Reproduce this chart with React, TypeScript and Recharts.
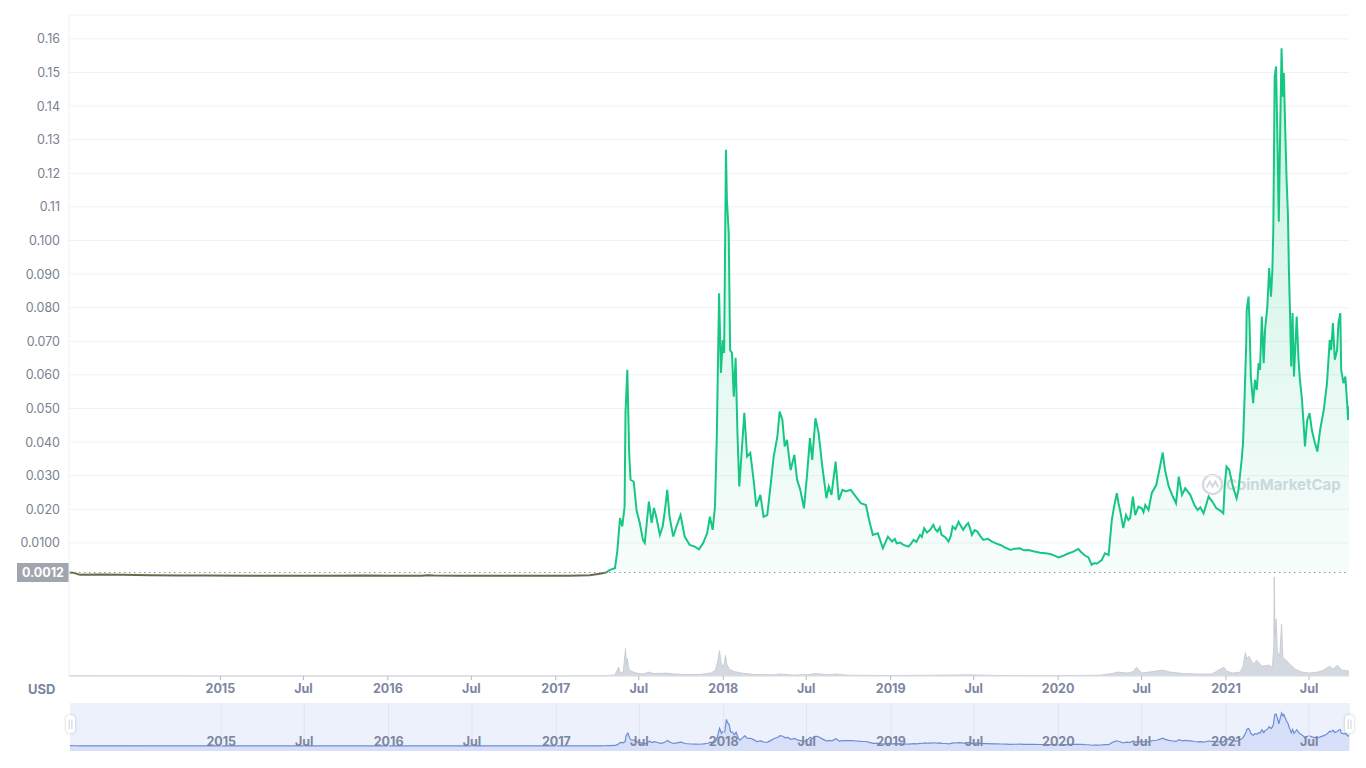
import React from 'react';
import {
  Area,
  AreaChart,
  CartesianGrid,
  ComposedChart,
  ReferenceLine,
  XAxis,
  YAxis,
} from 'recharts';

type Pt = [string, number];

// price in USD
const price2014to2016: Pt[] = [
  ['2014-02-05', 0.0012], ['2014-02-15', 0.0011], ['2014-03-01', 0.0005], ['2014-04-15', 0.0006],
  ['2014-06-01', 0.0005], ['2014-08-01', 0.0004], ['2014-10-01', 0.0003], ['2014-12-01', 0.0003],
  ['2015-03-01', 0.0002], ['2015-06-01', 0.0002], ['2015-09-01', 0.0002], ['2015-11-15', 0.0003],
  ['2016-01-01', 0.0002], ['2016-03-15', 0.0002], ['2016-03-28', 0.0004], ['2016-04-10', 0.0003],
  ['2016-06-01', 0.0002], ['2016-09-01', 0.0002], ['2016-12-01', 0.0002],
];

const price2017: Pt[] = [
  ['2017-02-01', 0.0002], ['2017-03-16', 0.0004], ['2017-04-07', 0.0008], ['2017-04-20', 0.0012],
  ['2017-04-29', 0.0020], ['2017-05-10', 0.0025], ['2017-05-15', 0.0074], ['2017-05-21', 0.0174],
  ['2017-05-26', 0.0149], ['2017-05-31', 0.0208], ['2017-06-02', 0.0487], ['2017-06-06', 0.0615],
  ['2017-06-10', 0.0368], ['2017-06-13', 0.0288], ['2017-06-20', 0.0282], ['2017-06-26', 0.0198],
  ['2017-07-03', 0.0160], ['2017-07-10', 0.0109], ['2017-07-14', 0.0100], ['2017-07-23', 0.0223],
  ['2017-07-29', 0.0160], ['2017-08-03', 0.0204], ['2017-08-08', 0.0178], ['2017-08-16', 0.0124],
  ['2017-08-22', 0.0149], ['2017-08-27', 0.0198], ['2017-09-01', 0.0258], ['2017-09-06', 0.0178],
  ['2017-09-14', 0.0119], ['2017-09-21', 0.0149], ['2017-09-30', 0.0183], ['2017-10-09', 0.0119],
  ['2017-10-20', 0.0094], ['2017-10-31', 0.0089], ['2017-11-09', 0.0081], ['2017-11-18', 0.0099],
  ['2017-11-27', 0.0129], ['2017-12-03', 0.0178], ['2017-12-09', 0.0139], ['2017-12-14', 0.0208],
  ['2017-12-18', 0.0416], ['2017-12-23', 0.0843], ['2017-12-27', 0.0606], ['2017-12-31', 0.0704],
];

const price2018: Pt[] = [
  ['2018-01-03', 0.0665], ['2018-01-07', 0.1270], ['2018-01-09', 0.1121], ['2018-01-13', 0.1023],
  ['2018-01-16', 0.0674], ['2018-01-20', 0.0665], ['2018-01-24', 0.0535], ['2018-01-28', 0.0651],
  ['2018-02-01', 0.0427], ['2018-02-05', 0.0268], ['2018-02-11', 0.0387], ['2018-02-16', 0.0487],
  ['2018-02-22', 0.0357], ['2018-03-01', 0.0368], ['2018-03-09', 0.0279], ['2018-03-14', 0.0208],
  ['2018-03-23', 0.0243], ['2018-03-30', 0.0178], ['2018-04-07', 0.0183], ['2018-04-14', 0.0268],
  ['2018-04-21', 0.0357], ['2018-04-29', 0.0416], ['2018-05-04', 0.0491], ['2018-05-10', 0.0466],
  ['2018-05-15', 0.0387], ['2018-05-20', 0.0407], ['2018-05-28', 0.0317], ['2018-06-05', 0.0362],
  ['2018-06-11', 0.0288], ['2018-06-18', 0.0258], ['2018-06-26', 0.0203], ['2018-07-03', 0.0307],
  ['2018-07-09', 0.0412], ['2018-07-14', 0.0347], ['2018-07-21', 0.0471], ['2018-07-28', 0.0427],
  ['2018-08-05', 0.0327], ['2018-08-14', 0.0233], ['2018-08-19', 0.0268], ['2018-08-25', 0.0243],
  ['2018-09-03', 0.0342], ['2018-09-10', 0.0228], ['2018-09-18', 0.0258], ['2018-09-25', 0.0253],
  ['2018-10-06', 0.0258], ['2018-10-17', 0.0238], ['2018-10-28', 0.0218], ['2018-11-08', 0.0213],
  ['2018-11-15', 0.0168], ['2018-11-23', 0.0124], ['2018-12-04', 0.0129], ['2018-12-15', 0.0084],
  ['2018-12-26', 0.0119],
];

const price2019: Pt[] = [
  ['2019-01-04', 0.0104], ['2019-01-10', 0.0112], ['2019-01-14', 0.0099], ['2019-01-22', 0.0101],
  ['2019-01-29', 0.0094], ['2019-02-09', 0.0089], ['2019-02-14', 0.0097], ['2019-02-20', 0.0109],
  ['2019-02-26', 0.0103], ['2019-03-06', 0.0124], ['2019-03-10', 0.0118], ['2019-03-15', 0.0144],
  ['2019-03-21', 0.0131], ['2019-03-28', 0.0139], ['2019-04-04', 0.0154], ['2019-04-08', 0.0141],
  ['2019-04-13', 0.0134], ['2019-04-18', 0.0146], ['2019-04-22', 0.0124], ['2019-04-30', 0.0117],
  ['2019-05-07', 0.0104], ['2019-05-12', 0.0121], ['2019-05-16', 0.0149], ['2019-05-22', 0.0141],
  ['2019-05-29', 0.0163], ['2019-06-03', 0.0150], ['2019-06-08', 0.0139], ['2019-06-14', 0.0152],
  ['2019-06-19', 0.0159], ['2019-06-23', 0.0144], ['2019-06-27', 0.0124], ['2019-07-03', 0.0138],
  ['2019-07-09', 0.0134], ['2019-07-15', 0.0121], ['2019-07-22', 0.0109], ['2019-08-01', 0.0112],
  ['2019-08-10', 0.0104], ['2019-08-20', 0.0098], ['2019-08-28', 0.0094], ['2019-09-08', 0.0086],
  ['2019-09-19', 0.0079], ['2019-09-28', 0.0083], ['2019-10-10', 0.0084], ['2019-10-18', 0.0078],
  ['2019-10-28', 0.0079], ['2019-11-08', 0.0075], ['2019-11-23', 0.0071], ['2019-12-04', 0.0069],
  ['2019-12-15', 0.0067], ['2019-12-24', 0.0062],
];

const price2020: Pt[] = [
  ['2020-01-02', 0.0057], ['2020-01-11', 0.0061], ['2020-01-20', 0.0067], ['2020-02-03', 0.0074],
  ['2020-02-14', 0.0082], ['2020-02-20', 0.0073], ['2020-02-27', 0.0064], ['2020-03-07', 0.0057],
  ['2020-03-14', 0.0035], ['2020-03-20', 0.0040], ['2020-03-25', 0.0038], ['2020-04-05', 0.0049],
  ['2020-04-12', 0.0069], ['2020-04-20', 0.0064], ['2020-04-27', 0.0168], ['2020-05-02', 0.0208],
  ['2020-05-08', 0.0248], ['2020-05-12', 0.0214], ['2020-05-15', 0.0198], ['2020-05-22', 0.0144],
  ['2020-05-28', 0.0183], ['2020-06-02', 0.0168], ['2020-06-06', 0.0174], ['2020-06-12', 0.0238],
  ['2020-06-17', 0.0183], ['2020-06-24', 0.0208], ['2020-07-01', 0.0203], ['2020-07-05', 0.0191],
  ['2020-07-09', 0.0213], ['2020-07-16', 0.0198], ['2020-07-23', 0.0248], ['2020-08-02', 0.0273],
  ['2020-08-10', 0.0327], ['2020-08-16', 0.0369], ['2020-08-21', 0.0317], ['2020-08-29', 0.0268],
  ['2020-09-07', 0.0238], ['2020-09-14', 0.0218], ['2020-09-20', 0.0297], ['2020-09-27', 0.0243],
  ['2020-10-04', 0.0263], ['2020-10-15', 0.0243], ['2020-10-24', 0.0213], ['2020-10-31', 0.0198],
  ['2020-11-06', 0.0206], ['2020-11-13', 0.0188], ['2020-11-24', 0.0238], ['2020-12-02', 0.0223],
  ['2020-12-11', 0.0203], ['2020-12-18', 0.0198], ['2020-12-26', 0.0188], ['2020-12-29', 0.0268],
];

const price2021: Pt[] = [
  ['2021-01-02', 0.0327], ['2021-01-08', 0.0317], ['2021-01-16', 0.0268], ['2021-01-24', 0.0233],
  ['2021-01-28', 0.0258], ['2021-02-04', 0.0347], ['2021-02-07', 0.0397], ['2021-02-10', 0.0516],
  ['2021-02-14', 0.0694], ['2021-02-15', 0.0793], ['2021-02-19', 0.0833], ['2021-02-21', 0.0764],
  ['2021-02-24', 0.0595], ['2021-03-01', 0.0516], ['2021-03-05', 0.0585], ['2021-03-09', 0.0555],
  ['2021-03-13', 0.0635], ['2021-03-16', 0.0615], ['2021-03-20', 0.0774], ['2021-03-24', 0.0635],
  ['2021-03-27', 0.0734], ['2021-04-01', 0.0803], ['2021-04-05', 0.0918], ['2021-04-09', 0.0833],
  ['2021-04-12', 0.0913], ['2021-04-14', 0.1032], ['2021-04-17', 0.1488], ['2021-04-20', 0.1518],
  ['2021-04-23', 0.1299], ['2021-04-26', 0.1056], ['2021-04-29', 0.1329], ['2021-05-02', 0.1572],
  ['2021-05-05', 0.1428], ['2021-05-07', 0.1498], ['2021-05-10', 0.1329], ['2021-05-13', 0.1180],
  ['2021-05-16', 0.1071], ['2021-05-18', 0.0913], ['2021-05-21', 0.0754], ['2021-05-23', 0.0625],
  ['2021-05-26', 0.0784], ['2021-05-29', 0.0595], ['2021-06-04', 0.0774], ['2021-06-08', 0.0645],
  ['2021-06-11', 0.0585], ['2021-06-15', 0.0535], ['2021-06-19', 0.0456], ['2021-06-22', 0.0387],
  ['2021-06-27', 0.0466], ['2021-07-02', 0.0486], ['2021-07-07', 0.0436], ['2021-07-12', 0.0407],
  ['2021-07-19', 0.0372], ['2021-07-25', 0.0436], ['2021-08-02', 0.0496], ['2021-08-09', 0.0575],
  ['2021-08-15', 0.0704], ['2021-08-18', 0.0674], ['2021-08-22', 0.0754], ['2021-08-26', 0.0645],
  ['2021-08-31', 0.0674], ['2021-09-03', 0.0754], ['2021-09-07', 0.0784], ['2021-09-09', 0.0615],
  ['2021-09-14', 0.0575], ['2021-09-18', 0.0595], ['2021-09-22', 0.0516], ['2021-09-24', 0.0466],
  ['2021-09-26', 0.0506],
];

// 24h volume, millions USD (no scale shown, relative heights only)
const volume2014to2019: Pt[] = [
  ['2014-02-05', 4], ['2014-06-01', 2], ['2015-01-01', 1], ['2016-01-01', 1], ['2017-01-01', 1],
  ['2017-04-15', 3], ['2017-05-10', 10], ['2017-05-18', 90], ['2017-05-22', 30], ['2017-05-28', 40],
  ['2017-06-02', 280], ['2017-06-04', 120], ['2017-06-06', 180], ['2017-06-09', 80], ['2017-06-14', 50],
  ['2017-06-25', 30], ['2017-07-10', 20], ['2017-07-23', 40], ['2017-08-01', 25], ['2017-09-01', 30],
  ['2017-09-15', 20], ['2017-10-10', 15], ['2017-11-10', 15], ['2017-12-05', 30], ['2017-12-15', 60],
  ['2017-12-20', 150], ['2017-12-24', 260], ['2017-12-27', 140], ['2018-01-02', 90], ['2018-01-06', 210],
  ['2018-01-09', 120], ['2018-01-14', 70], ['2018-01-25', 45], ['2018-02-10', 30], ['2018-03-10', 15],
  ['2018-04-20', 12], ['2018-05-05', 20], ['2018-06-01', 10], ['2018-07-10', 15], ['2018-07-20', 25],
  ['2018-08-20', 12], ['2018-09-03', 20], ['2018-10-01', 8], ['2019-01-01', 5], ['2019-05-20', 10],
  ['2019-06-20', 12], ['2019-09-01', 5],
];

const volume2020to2021: Pt[] = [
  ['2020-01-01', 4], ['2020-04-01', 8], ['2020-04-28', 25], ['2020-05-08', 40], ['2020-06-01', 30],
  ['2020-06-13', 45], ['2020-06-20', 90], ['2020-07-01', 30], ['2020-08-16', 60], ['2020-09-01', 40],
  ['2020-10-01', 25], ['2020-11-01', 20], ['2020-12-01', 20], ['2020-12-27', 90], ['2021-01-02', 50],
  ['2021-01-15', 30], ['2021-02-01', 40], ['2021-02-07', 100], ['2021-02-12', 240], ['2021-02-15', 180],
  ['2021-02-20', 200], ['2021-03-01', 120], ['2021-03-09', 160], ['2021-03-20', 100], ['2021-04-05', 110],
  ['2021-04-12', 90], ['2021-04-15', 300], ['2021-04-16', 1010], ['2021-04-18', 400], ['2021-04-20', 580],
  ['2021-04-23', 250], ['2021-04-28', 200], ['2021-05-02', 530], ['2021-05-05', 180], ['2021-05-10', 170],
  ['2021-05-20', 120], ['2021-06-01', 70], ['2021-06-15', 40], ['2021-07-01', 30], ['2021-07-20', 40],
  ['2021-08-01', 60], ['2021-08-15', 100], ['2021-08-22', 70], ['2021-09-01', 110], ['2021-09-10', 60],
  ['2021-09-26', 50],
];

const xTickDates = [
  '2015-01-01', '2015-07-01', '2016-01-01', '2016-07-01', '2017-01-01', '2017-07-01', '2018-01-01',
  '2018-07-01', '2019-01-01', '2019-07-01', '2020-01-01', '2020-07-01', '2021-01-01', '2021-07-01',
];
const xTickLabels = [
  '2015', 'Jul', '2016', 'Jul', '2017', 'Jul', '2018', 'Jul', '2019', 'Jul', '2020', 'Jul', '2021', 'Jul',
];

const priceTicks = [
  0.16, 0.15, 0.14, 0.13, 0.12, 0.11, 0.1, 0.09, 0.08, 0.07, 0.06, 0.05, 0.04, 0.03, 0.02, 0.01,
];
const priceTickLabels = [
  '0.16', '0.15', '0.14', '0.13', '0.12', '0.11', '0.100', '0.090', '0.080', '0.070', '0.060',
  '0.050', '0.040', '0.030', '0.020', '0.0100',
];
// the volume pane below zero shares the price grid
const volumeGridLevels = [-0.01, -0.02];

const toRows = (pts: Pt[]) => pts.map(([d, v]) => ({ t: Date.parse(d), v }));

const priceRows = toRows([
  ...price2014to2016, ...price2017, ...price2018, ...price2019, ...price2020, ...price2021,
]);
const volumeRows = toRows([...volume2014to2019, ...volume2020to2021]);
const tickTimes = xTickDates.map(d => Date.parse(d));
const xDomain = [priceRows[0].t, priceRows[priceRows.length - 1].t];

const startPrice = priceRows[0].v;
const maxPrice = Math.max(...priceRows.map(r => r.v));
const minPrice = Math.min(...priceRows.map(r => r.v));
const lineSplit = (maxPrice - startPrice) / (maxPrice - minPrice);
const volTop = Math.max(...volumeRows.map(r => r.v)) / 0.15;

const xLabel = (t: number) => xTickLabels[tickTimes.indexOf(t)] ?? '';
const yLabel = (v: number) => priceTickLabels[priceTicks.indexOf(v)] ?? '';

const StartLabel = (props: any) => {
  const { x, y } = props.viewBox;
  return (
    <g>
      <rect x={x - 52} y={y - 9.5} width={52} height={19} fill='#a0a5af' />
      <text x={x - 26} y={y + 4.5} textAnchor='middle' fill='#fff' fontSize={12.5} fontWeight={700}>
        {startPrice.toFixed(4)}
      </text>
    </g>
  );
};

const handle: React.CSSProperties = {
  position: 'absolute',
  top: 715,
  width: 9,
  height: 18,
  borderRadius: 4,
  background: '#fff',
  boxShadow: '0 0 3px rgba(80,90,110,0.35)',
  color: '#b5bac5',
  fontSize: 8,
  lineHeight: '18px',
  textAlign: 'center',
};

export default function App() {
  return (
    <div
      style={{
        position: 'absolute', left: 0, top: 0, width: 1366, height: 768,
        background: '#fff', fontFamily: 'Inter, sans-serif', overflow: 'hidden',
      }}
    >
      {/* watermark sits behind the chart */}
      <div
        style={{
          position: 'absolute', left: 1201, top: 473, display: 'flex', alignItems: 'center',
          color: '#d6dae1', fontSize: 15, fontWeight: 700, gap: 2,
        }}
      >
        <svg width={23} height={23} viewBox='0 0 24 24'>
          <circle cx={12} cy={12} r={10} fill='none' stroke='#d6dae1' strokeWidth={2.5} />
          <polyline points='6,15 9,9 12,14 15,9 18,15' fill='none' stroke='#d6dae1' strokeWidth={2.2} />
        </svg>
        <span>CoinMarketCap</span>
      </div>

      <div style={{ position: 'absolute', left: 0, top: 0 }}>
        <ComposedChart width={1366} height={706} margin={{ top: 15, right: 17, bottom: 0, left: 0 }}>
          <defs>
            <linearGradient id='priceStroke' x1='0' y1='0' x2='0' y2='1'>
              <stop offset={lineSplit} stopColor='#16c784' />
              <stop offset={lineSplit} stopColor='#6b6a4c' />
            </linearGradient>
            <linearGradient id='priceFill' x1='0' y1='0' x2='0' y2='1'>
              <stop offset='0' stopColor='#16c784' stopOpacity={0.24} />
              <stop offset='1' stopColor='#16c784' stopOpacity={0.03} />
            </linearGradient>
          </defs>
          <CartesianGrid yAxisId='price' vertical={false} stroke='#eff1f4' />
          <XAxis
            type='number'
            dataKey='t'
            domain={xDomain}
            ticks={tickTimes}
            tickFormatter={xLabel}
            allowDataOverflow
            height={30}
            tickSize={4}
            tickMargin={4}
            axisLine={{ stroke: '#dcdfe5' }}
            tickLine={{ stroke: '#b5bac4' }}
            tick={{ fill: '#7d86a0', fontSize: 12.5, fontWeight: 700 }}
          />
          <YAxis
            yAxisId='price'
            domain={[-0.0296, 0.1671]}
            ticks={[...volumeGridLevels, ...priceTicks]}
            tickFormatter={yLabel}
            allowDataOverflow
            width={69}
            tickSize={0}
            tickMargin={9}
            tickLine={false}
            axisLine={{ stroke: '#eef0f3' }}
            tick={{ fill: '#7a8190', fontSize: 12.5 }}
          />
          <YAxis yAxisId='vol' hide domain={[0, volTop]} />
          <Area
            yAxisId='vol'
            data={volumeRows}
            dataKey='v'
            type='linear'
            stroke='#c3c8d1'
            strokeWidth={0.8}
            fill='#d4d8e0'
            fillOpacity={1}
            dot={false}
            activeDot={false}
            isAnimationActive={false}
          />
          <ReferenceLine
            yAxisId='price'
            y={startPrice}
            stroke='#8d94a2'
            strokeDasharray='1.5 3.5'
            label={StartLabel}
          />
          <Area
            yAxisId='price'
            data={priceRows}
            dataKey='v'
            type='linear'
            baseValue={startPrice}
            stroke='url(#priceStroke)'
            strokeWidth={2}
            fill='url(#priceFill)'
            fillOpacity={1}
            dot={false}
            activeDot={false}
            isAnimationActive={false}
          />
        </ComposedChart>
      </div>

      <div
        style={{
          position: 'absolute', left: 28, top: 681, fontSize: 13, fontWeight: 700, color: '#7d86a0',
        }}
      >
        USD
      </div>

      {/* navigator */}
      <div style={{ position: 'absolute', left: 70, top: 703, width: 1280, height: 48, background: '#edf1fc' }} />
      <div style={{ position: 'absolute', left: 0, top: 703 }}>
        <AreaChart width={1366} height={48} data={priceRows} margin={{ top: 0, right: 17, bottom: 0, left: 70 }}>
          <XAxis type='number' dataKey='t' domain={xDomain} allowDataOverflow hide />
          <YAxis hide domain={[-0.024, 0.205]} allowDataOverflow />
          {tickTimes.map((t, i) => (
            <ReferenceLine
              key={t}
              x={t}
              stroke='#dde4f6'
              label={{
                value: xTickLabels[i],
                position: 'insideBottom',
                offset: 5,
                fill: '#7d86a0',
                fontSize: 12.5,
                fontWeight: 700,
              }}
            />
          ))}
          <Area
            dataKey='v'
            type='linear'
            baseValue='dataMin'
            stroke='#6e8cd5'
            strokeWidth={1.2}
            fill='#cdd8f6'
            fillOpacity={0.7}
            dot={false}
            activeDot={false}
            isAnimationActive={false}
          />
        </AreaChart>
      </div>
      <div style={{ ...handle, left: 66 }}>||</div>
      <div style={{ ...handle, left: 1345 }}>||</div>
    </div>
  );
}
